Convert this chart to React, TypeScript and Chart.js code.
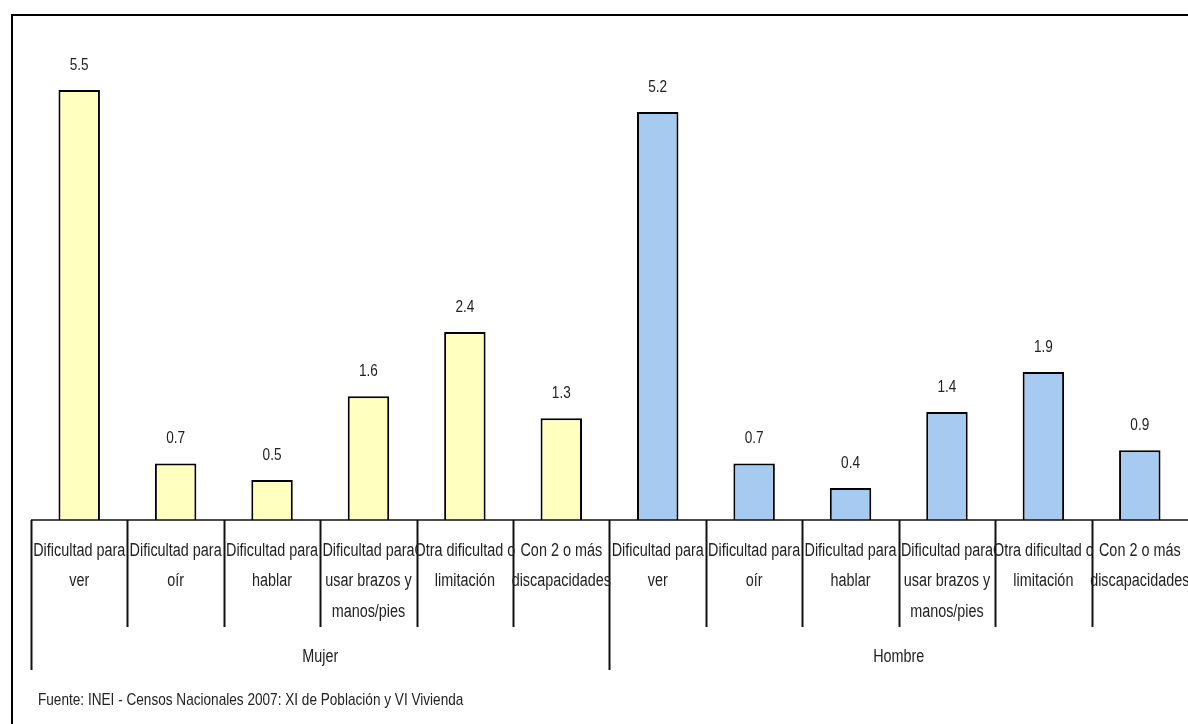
import React, { useEffect, useRef } from "react";
import { Chart, registerables } from "chart.js";

Chart.register(...registerables);

const categoryLabels: string[][] = [
  ["Dificultad para", "ver"],
  ["Dificultad para", "oír"],
  ["Dificultad para", "hablar"],
  ["Dificultad para", "usar brazos y", "manos/pies"],
  ["Otra dificultad o", "limitación"],
  ["Con 2 o más", "discapacidades"],
];
const groups = ["Mujer", "Hombre"];
const mujerValues = [5.49, 0.72, 0.51, 1.58, 2.4, 1.3];
const hombreValues = [5.21, 0.72, 0.41, 1.38, 1.89, 0.89];
const groupColors = ["#FFFFC0", "#A6CAF0"];
const footer = "Fuente: INEI - Censos Nacionales 2007: XI de Población y VI Vivienda";

const FONT = '"Liberation Sans", Arial, sans-serif';
const NARROW = 0.8;

export default function App() {
  const ref = useRef<HTMLCanvasElement | null>(null);
  useEffect(() => {
    const canvas = ref.current;
    if (!canvas) return;
    const labels: string[] = [];
    const data: number[] = [];
    const colors: string[] = [];
    [mujerValues, hombreValues].forEach((vals, g) => {
      vals.forEach((v, i) => {
        labels.push(categoryLabels[i].join(" "));
        data.push(v);
        colors.push(groupColors[g]);
      });
    });

    const text = (
      ctx: CanvasRenderingContext2D,
      s: string,
      x: number,
      y: number,
      size: number,
      align: CanvasTextAlign
    ) => {
      ctx.save();
      ctx.translate(x, y);
      ctx.scale(NARROW, 1);
      ctx.font = `${size}px ${FONT}`;
      ctx.textAlign = align;
      ctx.textBaseline = "middle";
      ctx.fillText(s, 0, 0);
      ctx.restore();
    };

    const decor = {
      id: "decor",
      afterDraw(chart: any) {
        const ctx = chart.ctx as CanvasRenderingContext2D;
        const x = chart.scales.x;
        const area = chart.chartArea;
        const n = labels.length;
        const step = x.getPixelForValue(1) - x.getPixelForValue(0);
        ctx.save();
        // outer frame
        ctx.strokeStyle = "#000";
        ctx.lineWidth = 2;
        ctx.beginPath();
        ctx.moveTo(12, 800);
        ctx.lineTo(12, 15);
        ctx.lineTo(1300, 15);
        ctx.stroke();
        // axis line
        ctx.lineWidth = 1.5;
        ctx.strokeStyle = "#111";
        ctx.beginPath();
        ctx.moveTo(area.left, area.bottom);
        ctx.lineTo(area.right + 5, area.bottom);
        ctx.stroke();
        // separators
        for (let i = 0; i < n; i++) {
          const px = Math.round(x.getPixelForValue(i) - step / 2) + 0.5;
          const isGroup = i % categoryLabels.length === 0;
          ctx.lineWidth = 2;
          ctx.beginPath();
          ctx.moveTo(px, area.bottom);
          ctx.lineTo(px, area.bottom + (isGroup ? 150 : 107));
          ctx.stroke();
        }
        ctx.fillStyle = "#222";
        // category labels
        for (let i = 0; i < n; i++) {
          const cx = x.getPixelForValue(i);
          const lines = categoryLabels[i % categoryLabels.length];
          lines.forEach((ln, k) => {
            text(ctx, ln, cx, area.bottom + 31 + k * 30.5, 18, "center");
          });
        }
        // group labels
        groups.forEach((g, gi) => {
          const a = x.getPixelForValue(gi * categoryLabels.length) - step / 2;
          const b = x.getPixelForValue((gi + 1) * categoryLabels.length - 1) + step / 2;
          text(ctx, g, (a + b) / 2, area.bottom + 137, 18, "center");
        });
        // value labels
        const meta = chart.getDatasetMeta(0);
        meta.data.forEach((bar: any, i: number) => {
          text(ctx, data[i].toFixed(1), bar.x, bar.y - 25, 17, "center");
        });
        // footer
        text(ctx, footer, 38, area.bottom + 180, 17, "left");
        ctx.restore();
      },
    };

    const chart = new Chart(canvas, {
      type: "bar",
      data: {
        labels,
        datasets: [
          {
            data,
            backgroundColor: colors,
            borderColor: "#000",
            borderWidth: 2,
            barPercentage: 0.43,
            categoryPercentage: 1,
          },
        ],
      },
      options: {
        responsive: false,
        animation: false,
        devicePixelRatio: 1,
        layout: { padding: { left: 31, right: 0, top: 50, bottom: 204 } },
        plugins: { legend: { display: false }, tooltip: { enabled: false } },
        scales: {
          x: { display: false },
          y: { display: false, min: 0, max: 6 },
        },
      },
      plugins: [decor],
    });
    return () => chart.destroy();
  }, []);
  return (
    <div style={{ position: "absolute", left: 0, top: 0, width: 1188, height: 724, background: "#fff" }}>
      <canvas ref={ref} width={1188} height={724} />
    </div>
  );
}
